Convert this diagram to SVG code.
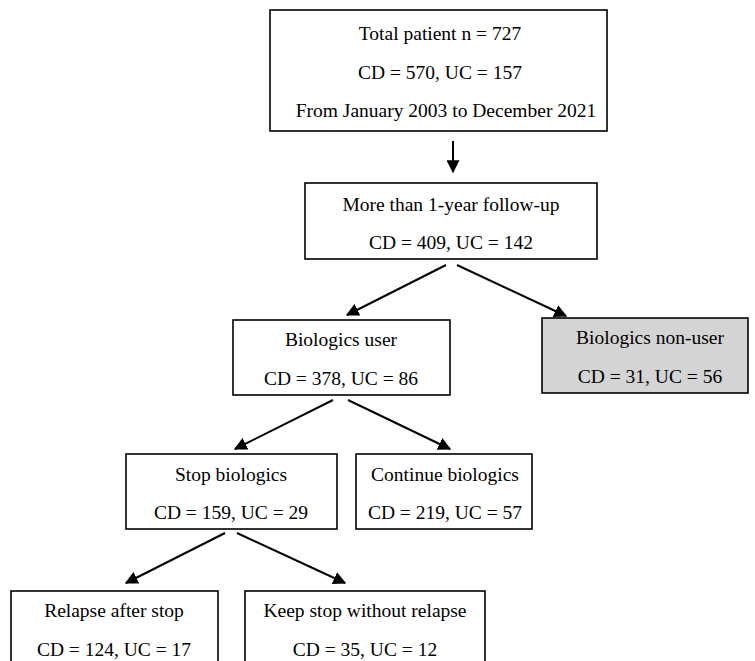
<svg xmlns="http://www.w3.org/2000/svg" width="755" height="661" viewBox="0 0 755 661">
<defs>
<style>
.box{fill:#ffffff;stroke:#000;stroke-width:1.6}
.grey{fill:#d4d4d4;stroke:#000;stroke-width:1.6}
.t{font-family:"Liberation Serif","Times New Roman",serif;font-size:19.5px;fill:#000;text-anchor:middle}
.c{stroke:#000;stroke-width:2;fill:none;marker-end:url(#ah)}
</style>
<marker id="ah" viewBox="0 0 10 10" refX="9" refY="5" markerWidth="6.5" markerHeight="6.5" markerUnits="strokeWidth" orient="auto">
<path d="M0,0 L10,5 L0,10 z" fill="#000"/>
</marker>
</defs>
<rect width="755" height="661" fill="#fff"/>
<g id="connectors">
<line class="c" x1="453" y1="141" x2="453" y2="172"/>
<line class="c" x1="446" y1="265" x2="347" y2="315"/>
<line class="c" x1="457" y1="265" x2="566" y2="316"/>
<line class="c" x1="333" y1="400" x2="235" y2="449"/>
<line class="c" x1="348" y1="400" x2="450" y2="449"/>
<line class="c" x1="225" y1="533" x2="126" y2="583"/>
<line class="c" x1="237" y1="533" x2="345" y2="583"/>
</g>
<g id="total">
<rect class="box" x="270" y="10" width="337" height="121"/>
<text class="t" x="440" y="40">Total patient n = 727</text>
<text class="t" x="440" y="79">CD = 570, UC = 157</text>
<text class="t" x="446" y="117">From January 2003 to December 2021</text>
</g>
<g id="followup">
<rect class="box" x="305" y="183" width="292" height="76"/>
<text class="t" x="451" y="211">More than 1-year follow-up</text>
<text class="t" x="451" y="249">CD = 409, UC = 142</text>
</g>
<g id="user">
<rect class="box" x="233" y="320" width="217" height="75"/>
<text class="t" x="341" y="346">Biologics user</text>
<text class="t" x="341" y="385">CD = 378, UC = 86</text>
</g>
<g id="nonuser">
<rect class="grey" x="542" y="318" width="206" height="75"/>
<text class="t" x="650" y="344">Biologics non-user</text>
<text class="t" x="650" y="383">CD = 31, UC = 56</text>
</g>
<g id="stop">
<rect class="box" x="126" y="454" width="211" height="75"/>
<text class="t" x="231" y="481">Stop biologics</text>
<text class="t" x="231" y="519">CD = 159, UC = 29</text>
</g>
<g id="continue">
<rect class="box" x="356" y="454" width="176" height="75"/>
<text class="t" x="445" y="481">Continue biologics</text>
<text class="t" x="445" y="519">CD = 219, UC = 57</text>
</g>
<g id="relapse">
<rect class="box" x="11" y="591" width="207" height="80"/>
<text class="t" x="114" y="617">Relapse after stop</text>
<text class="t" x="114" y="656">CD = 124, UC = 17</text>
</g>
<g id="keep">
<rect class="box" x="245" y="591" width="240" height="80"/>
<text class="t" x="365" y="617">Keep stop without relapse</text>
<text class="t" x="365" y="656">CD = 35, UC = 12</text>
</g>
</svg>
